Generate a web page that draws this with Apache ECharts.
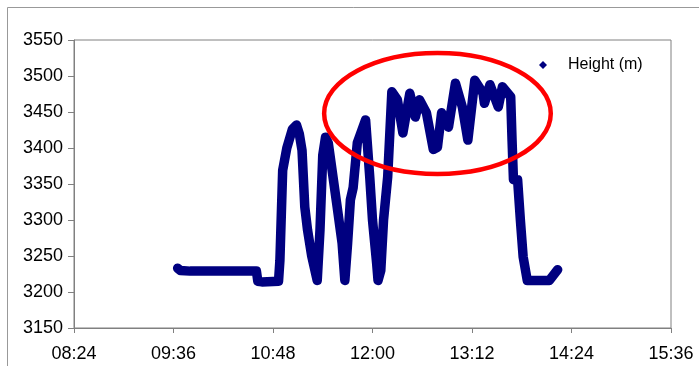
<!DOCTYPE html>
<html>
<head>
<meta charset="utf-8">
<script src="https://cdn.jsdelivr.net/npm/echarts@6/dist/echarts.min.js"></script>
<style>
  html, body { margin: 0; padding: 0; background: #fff; }
  #main { width: 699px; height: 366px; }
</style>
</head>
<body>
<div id="main"></div>
<script>
// readings (time of day, height in metres)
var times = [
  '09:39', '09:41', '09:48', '10:10', '10:36', '10:37', '10:40', '10:52',
  '10:53', '10:55', '10:58', '11:02', '11:05', '11:07', '11:09', '11:11',
  '11:13', '11:16', '11:20', '11:22', '11:24', '11:26', '11:28', '11:34',
  '11:38', '11:40', '11:42', '11:44', '11:46', '11:49', '11:55', '11:58',
  '12:00', '12:03', '12:04', '12:06', '12:08', '12:11', '12:14', '12:18',
  '12:22', '12:27', '12:31', '12:34', '12:39', '12:44', '12:47', '12:50',
  '12:55', '13:00', '13:05', '13:09', '13:14', '13:20', '13:21', '13:25',
  '13:31', '13:34', '13:40', '13:41', '13:42', '13:45', '13:47', '13:49',
  '13:52', '14:08', '14:14'
];
var heights = [
  3233, 3230, 3229, 3229, 3229, 3215, 3214, 3215,
  3244, 3369, 3400, 3426, 3432, 3420, 3397, 3318,
  3286, 3250, 3216, 3286, 3390, 3415, 3407, 3324,
  3268, 3216, 3268, 3328, 3345, 3407, 3439, 3360,
  3300, 3240, 3216, 3230, 3300, 3360, 3478, 3467,
  3421, 3476, 3443, 3467, 3449, 3398, 3401, 3449,
  3429, 3490, 3457, 3411, 3494, 3476, 3462, 3488,
  3457, 3485, 3471, 3410, 3356, 3356, 3300, 3249,
  3216, 3216, 3231
];
var seriesName = 'Height (m)';

// axis ranges (minutes after midnight / metres)
var xMin = 504, xMax = 936, xStep = 72;
var yMin = 3150, yMax = 3550, yStep = 50;

// the red ring drawn round the summit part (centre and radii in data units)
var ring = { t: 767, h: 3448, rt: 82, rh: 84 };

function toMinutes(s) {
  var p = s.split(':');
  return (+p[0]) * 60 + (+p[1]);
}
function fmt(m) {
  var h = Math.floor(m / 60), mm = Math.round(m % 60);
  return (h < 10 ? '0' : '') + h + ':' + (mm < 10 ? '0' : '') + mm;
}

var points = times.map(function (t, i) { return [toMinutes(t), heights[i]]; });

var FONT = 'Liberation Sans, Arial, sans-serif';
var GREY = '#808080';

var myChart = echarts.init(document.getElementById('main'), null, { renderer: 'canvas' });
var option = {
  animation: false,
  backgroundColor: '#fff',
  grid: {
    left: 74, top: 40, right: 28, bottom: 38,
    show: true, borderColor: GREY, borderWidth: 1
  },
  legend: {
    data: [seriesName],
    left: 539, top: 57,
    padding: 0,
    icon: 'diamond',
    itemWidth: 8, itemHeight: 8,
    textStyle: { fontFamily: FONT, fontSize: 16, color: '#000', padding: [0, 0, 0, 16] }
  },
  xAxis: {
    type: 'value',
    min: xMin, max: xMax, interval: xStep,
    splitLine: { show: false },
    axisLine: { lineStyle: { color: GREY } },
    axisTick: { length: 5, lineStyle: { color: GREY } },
    axisLabel: {
      margin: 17, color: '#000', fontFamily: FONT, fontSize: 18,
      formatter: function (v) { return fmt(v); }
    }
  },
  yAxis: {
    type: 'value',
    min: yMin, max: yMax, interval: yStep,
    splitLine: { show: false },
    axisLine: { show: true, lineStyle: { color: GREY } },
    axisTick: { show: true, length: 6, lineStyle: { color: GREY } },
    axisLabel: {
      margin: 11, color: '#000', fontFamily: FONT, fontSize: 18,
      formatter: function (v) { return String(v); }
    }
  },
  series: [
    {
      name: seriesName,
      type: 'line',
      data: points,
      showSymbol: false,
      symbol: 'diamond',
      color: '#000080',
      lineStyle: { width: 9.5, color: '#000080', cap: 'round', join: 'round' }
    }
  ]
};
myChart.setOption(option);

// frame and red ring
var c = myChart.convertToPixel({ gridIndex: 0 }, [ring.t, ring.h]);
var e = myChart.convertToPixel({ gridIndex: 0 }, [ring.t + ring.rt, ring.h + ring.rh]);
myChart.setOption({
  graphic: [
    {
      type: 'rect',
      shape: { x: 7.5, y: 7.5, width: 760, height: 420 },
      style: { fill: 'none', stroke: '#999', lineWidth: 1 },
      silent: true, z: 0
    },
    {
      type: 'ellipse',
      shape: { cx: c[0], cy: c[1], rx: e[0] - c[0], ry: c[1] - e[1] },
      style: { fill: 'none', stroke: '#ff0000', lineWidth: 4.5 },
      silent: true, z: 100
    }
  ]
});
</script>
</body>
</html>
